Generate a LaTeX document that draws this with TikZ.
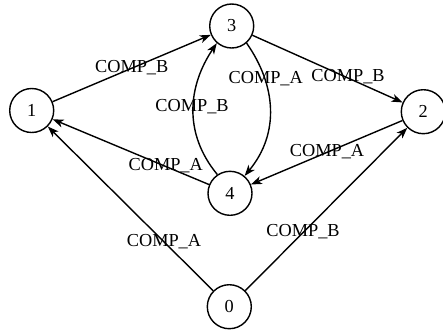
\documentclass[tikz,border=0pt]{standalone}
\usepackage{fontspec}
\setmainfont{Liberation Serif}
\usetikzlibrary{arrows.meta}
\begin{document}
\begin{tikzpicture}[x=1pt,y=-1pt,
  state/.style={circle,draw,line width=1.4pt,minimum size=44pt,inner sep=0pt,font=\fontsize{18.3}{20}\selectfont},
  edge/.style={line width=1.4pt,-{Stealth[length=11pt,width=8pt,inset=3pt]}},
  lbl/.style={inner sep=0pt,font=\fontsize{18.3}{20}\selectfont}]
\useasboundingbox (0,0) rectangle (443,333);
\node[state] (n3) at (231.7,26) {3};
\node[state] (n1) at (31.7,110.5) {1};
\node[state] (n2) at (423.3,111.7) {2};
\node[state] (n4) at (230,193.3) {4};
\node[state] (n0) at (229.3,306.7) {0};
\draw[edge] (n1) -- (n3) node[lbl] at (131.7,68) {COMP\_B};
\draw[edge] (n3) -- (n2) node[lbl] at (348,77) {COMP\_B};
\draw[edge] (n4) -- (n1) node[lbl] at (165.7,166) {COMP\_A};
\draw[edge] (n2) -- (n4) node[lbl] at (327,152) {COMP\_A};
\draw[edge] (n0) -- (n1) node[lbl] at (164,242) {COMP\_A};
\draw[edge] (n0) -- (n2) node[lbl] at (303,232) {COMP\_B};
\draw[edge] (n4.124) .. controls (183,133) and (188,86) .. (n3.229) node[lbl] at (192,107) {COMP\_B};
\draw[edge] (n3.311) .. controls (276,85) and (280,133) .. (n4.50) node[lbl] at (265.7,79) {COMP\_A};
\end{tikzpicture}
\end{document}
